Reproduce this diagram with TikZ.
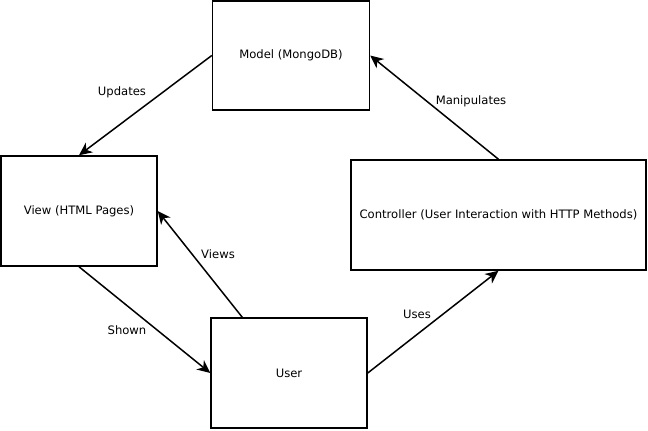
\documentclass[tikz,border=0pt]{standalone}
\usepackage{fontspec}
\setmainfont{DejaVu Sans}
\usetikzlibrary{arrows.meta,calc}
\begin{document}
\begin{tikzpicture}[x=1pt,y=-1pt,
  box/.style={draw=black,line width=1.5pt,fill=white,inner sep=0pt,font=\fontsize{11.6pt}{13pt}\selectfont},
  conn/.style={line width=1.5pt,-{Stealth[length=13pt,width=12pt,inset=4pt]}},
  lbl/.style={font=\fontsize{11.6pt}{13pt}\selectfont}]
\useasboundingbox (0,0) rectangle (648,431);
\node[box,minimum width=157pt,minimum height=109pt] (model) at (291,55.5) {Model (MongoDB)};
\node[box,minimum width=156pt,minimum height=110pt] (view) at (79,211) {View (HTML Pages)};
\node[box,minimum width=295pt,minimum height=110pt] (ctrl) at (498.5,215) {Controller (User Interaction with HTTP Methods)};
\node[box,minimum width=156pt,minimum height=110pt] (user) at (289,373) {User};
\coordinate (ustart) at ($(user.north west)+(32,0)$);
\draw[conn] (model.west) -- (view.north);
\draw[conn] (ctrl.north) -- (model.east);
\draw[conn] (ustart) -- (view.east);
\draw[conn] (view.south) -- (user.west);
\draw[conn] (user.east) -- (ctrl.south);
\node[lbl] (l1) at (122,92) {Updates};
\node[lbl] (l2) at (471,101) {Manipulates};
\node[lbl] (l3) at (218,254) {Views};
\node[lbl] (l4) at (127,330) {Shown};
\node[lbl] (l5) at (417,314) {Uses};
\end{tikzpicture}
\end{document}
